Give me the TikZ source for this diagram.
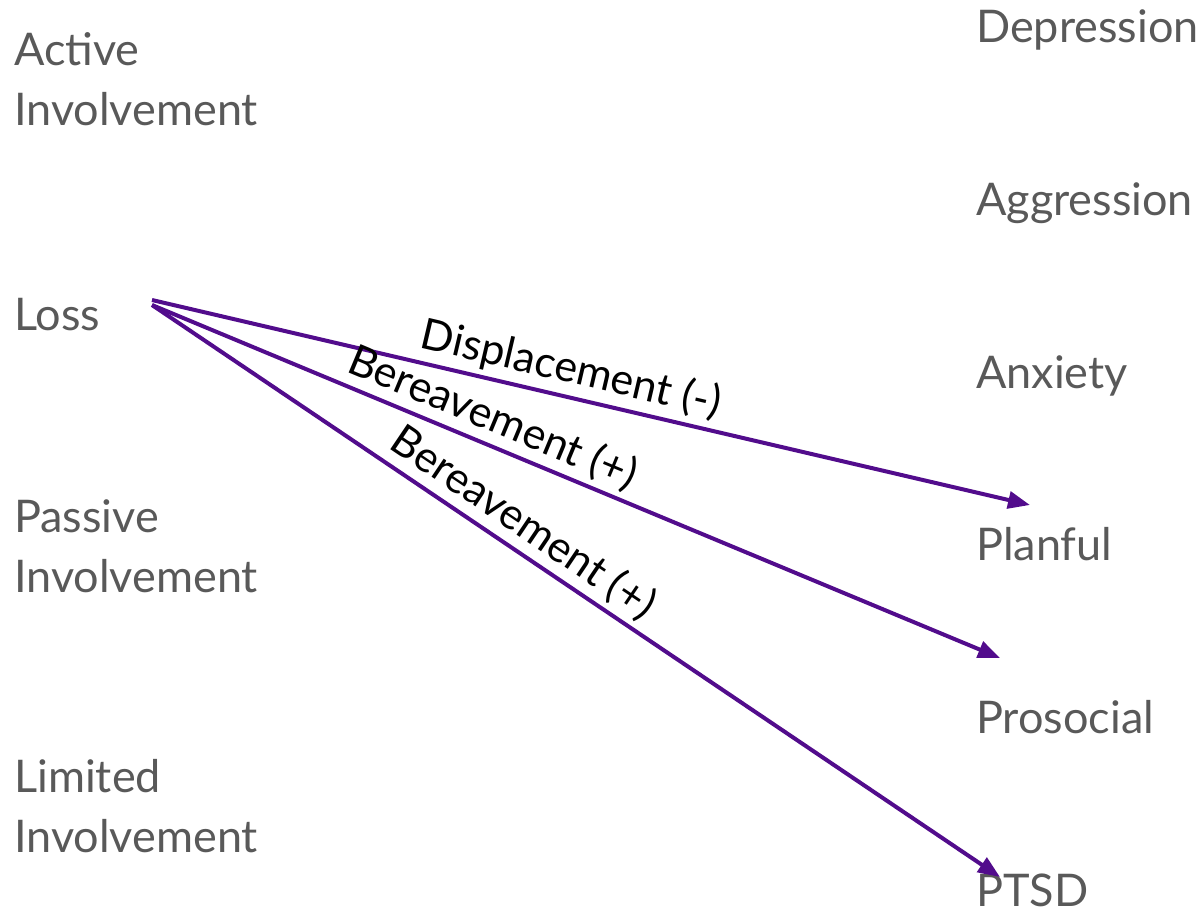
\documentclass[tikz,border=0pt]{standalone}
\usepackage{fontspec}
\setmainfont{Lato}
\usepackage{color}
\usetikzlibrary{arrows.meta}

\definecolor{labelgray}{RGB}{89,89,89}
\definecolor{flowpurple}{RGB}{82,12,140}

\tikzset{
  cat/.style={text=labelgray, font=\fontsize{45}{60}\selectfont, align=left, inner sep=0pt, anchor=base west},
  flow/.style={draw=flowpurple, line width=4pt, -{Triangle[length=22pt,width=17pt]}},
  flowlabel/.style={sloped, above, inner sep=5pt, font=\fontsize{43}{46}\selectfont, text=black}
}

\begin{document}
\begin{tikzpicture}[x=1pt, y=-1pt]
    \useasboundingbox (0, 0) rectangle (1201, 908);

    % niveaux d'implication (base de la derniere ligne)
    \node[cat] (active) at (14, 125) {Active\\Involvement};
    \node[cat] (loss) at (14, 330) {Loss};
    \node[cat] (passive) at (14, 592) {Passive\\Involvement};
    \node[cat] (limited) at (14, 852) {Limited\\Involvement};

    % issues
    \node[cat] (depression) at (976, 42) {Depression};
    \node[cat] (aggression) at (976, 215) {Aggression};
    \node[cat] (anxiety) at (976, 388) {Anxiety};
    \node[cat] (planful) at (976, 560) {Planful};
    \node[cat] (prosocial) at (976, 733) {Prosocial};
    \node[cat] (ptsd) at (976, 906) {PTSD};

    % fleches
    \coordinate (srcA) at (152, 300);
    \coordinate (srcB) at (152, 305);
    \coordinate (tipA) at (1030, 505);
    \coordinate (tipB) at (1000, 658);
    \coordinate (tipC) at (1000, 877);

    \draw[flow] (srcA) -- node[flowlabel, pos=0.47] {Displacement (-)} (tipA);
    \draw[flow] (srcB) -- node[flowlabel, pos=0.39] {Bereavement (+)} (tipB);
    \draw[flow] (srcB) -- node[flowlabel, pos=0.42] {Bereavement (+)} (tipC);
\end{tikzpicture}
\end{document}
